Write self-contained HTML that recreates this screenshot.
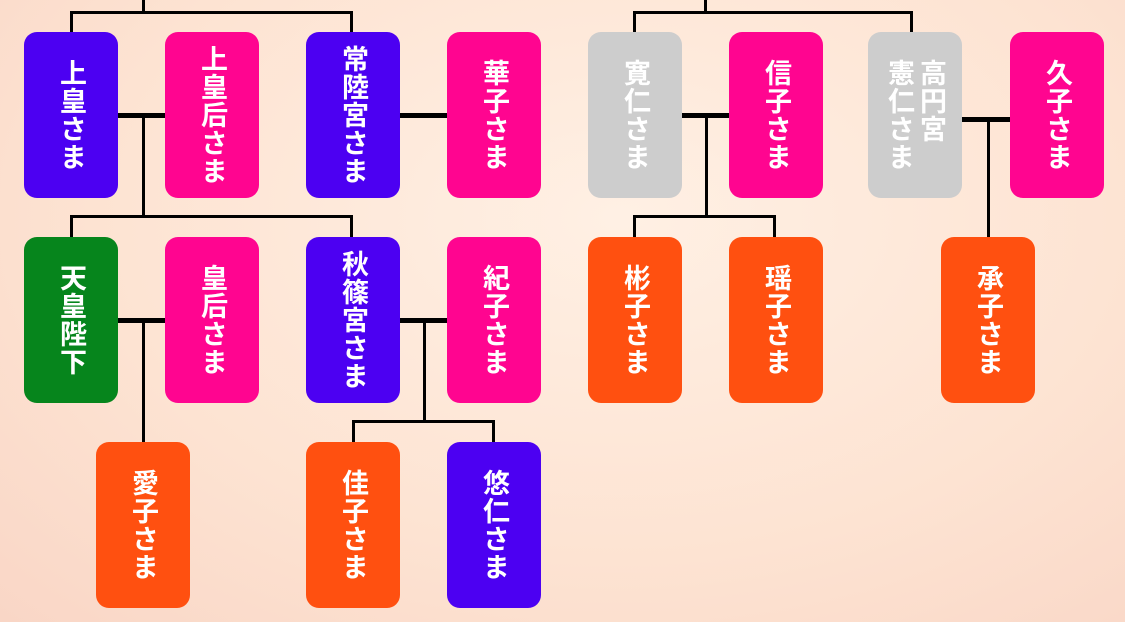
<!DOCTYPE html>
<html><head><meta charset="utf-8"><style>
html,body{margin:0;padding:0}
body{width:1125px;height:622px;overflow:hidden;position:relative;
background:radial-gradient(ellipse at 55% 35%,#fff0e4 0%,#fde3d2 60%,#f9d6c6 100%);
font-family:"Liberation Sans","Noto Sans CJK JP",sans-serif}
.b{position:absolute;width:94px;height:166px;border-radius:13px;display:flex;align-items:center;justify-content:center;gap:4px}
.b span{writing-mode:vertical-rl;color:#fff;font-weight:bold;font-size:27px;line-height:30px;letter-spacing:1px}
.p{background:#4c00f2}.k{background:#ff0590}.g{background:#cdcdcd}.gr{background:#06851c}.o{background:#ff5010}
.l{position:absolute;background:#000}
</style></head><body>
<!-- lines left -->
<div class="l" style="left:142px;top:0;width:3px;height:13px"></div>
<div class="l" style="left:70px;top:11px;width:283px;height:3px"></div>
<div class="l" style="left:70px;top:11px;width:3px;height:22px"></div>
<div class="l" style="left:350px;top:11px;width:3px;height:22px"></div>
<div class="l" style="left:118px;top:113px;width:47px;height:5px"></div>
<div class="l" style="left:142px;top:115px;width:3px;height:102px"></div>
<div class="l" style="left:400px;top:113px;width:47px;height:5px"></div>
<div class="l" style="left:70px;top:215px;width:283px;height:3px"></div>
<div class="l" style="left:70px;top:215px;width:3px;height:23px"></div>
<div class="l" style="left:350px;top:215px;width:3px;height:23px"></div>
<div class="l" style="left:118px;top:318px;width:47px;height:5px"></div>
<div class="l" style="left:142px;top:320px;width:3px;height:122px"></div>
<div class="l" style="left:400px;top:318px;width:47px;height:5px"></div>
<div class="l" style="left:423px;top:320px;width:3px;height:102px"></div>
<div class="l" style="left:352px;top:420px;width:142px;height:3px"></div>
<div class="l" style="left:352px;top:420px;width:3px;height:22px"></div>
<div class="l" style="left:492px;top:420px;width:3px;height:22px"></div>
<!-- lines right -->
<div class="l" style="left:704px;top:0;width:3px;height:13px"></div>
<div class="l" style="left:633px;top:11px;width:280px;height:3px"></div>
<div class="l" style="left:633px;top:11px;width:3px;height:22px"></div>
<div class="l" style="left:910px;top:11px;width:3px;height:22px"></div>
<div class="l" style="left:681px;top:113px;width:48px;height:5px"></div>
<div class="l" style="left:705px;top:115px;width:3px;height:102px"></div>
<div class="l" style="left:633px;top:215px;width:143px;height:3px"></div>
<div class="l" style="left:633px;top:215px;width:3px;height:23px"></div>
<div class="l" style="left:773px;top:215px;width:3px;height:23px"></div>
<div class="l" style="left:962px;top:117px;width:49px;height:5px"></div>
<div class="l" style="left:987px;top:119px;width:3px;height:119px"></div>
<!-- boxes -->
<div class="b p" style="left:24px;top:32px"><span>上皇さま</span></div>
<div class="b k" style="left:165px;top:32px"><span>上皇后さま</span></div>
<div class="b p" style="left:306px;top:32px"><span>常陸宮さま</span></div>
<div class="b k" style="left:447px;top:32px"><span>華子さま</span></div>
<div class="b g" style="left:588px;top:32px"><span>寛仁さま</span></div>
<div class="b k" style="left:729px;top:32px"><span>信子さま</span></div>
<div class="b g" style="left:868px;top:32px"><span style="line-height:32px">高円宮<br>憲仁さま</span></div>
<div class="b k" style="left:1010px;top:32px"><span>久子さま</span></div>
<div class="b gr" style="left:24px;top:237px"><span>天皇陛下</span></div>
<div class="b k" style="left:165px;top:237px"><span>皇后さま</span></div>
<div class="b p" style="left:306px;top:237px"><span>秋篠宮さま</span></div>
<div class="b k" style="left:447px;top:237px"><span>紀子さま</span></div>
<div class="b o" style="left:588px;top:237px"><span>彬子さま</span></div>
<div class="b o" style="left:729px;top:237px"><span>瑶子さま</span></div>
<div class="b o" style="left:941px;top:237px"><span>承子さま</span></div>
<div class="b o" style="left:96px;top:442px"><span>愛子さま</span></div>
<div class="b o" style="left:306px;top:442px"><span>佳子さま</span></div>
<div class="b p" style="left:447px;top:442px"><span>悠仁さま</span></div>
</body></html>
